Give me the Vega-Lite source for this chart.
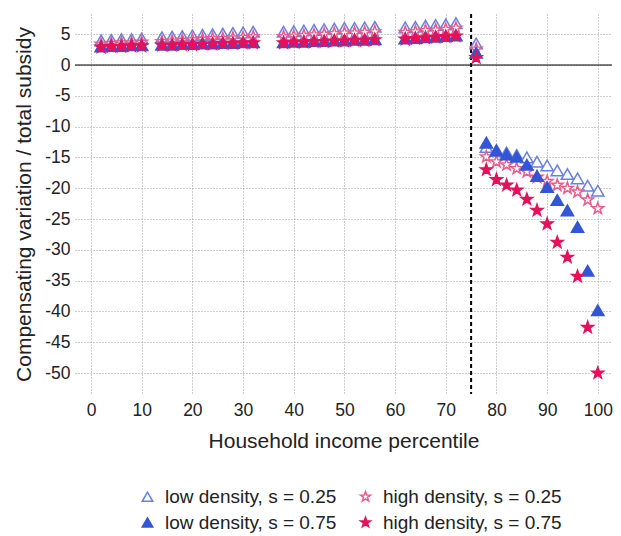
{
  "$schema": "https://vega.github.io/schema/vega-lite/v6.json",
  "width": 537,
  "height": 380,
  "padding": {"left": 75, "top": 14, "right": 9, "bottom": 142},
  "autosize": "none",
  "background": "white",
  "config": {
    "font": "Liberation Sans",
    "view": {"stroke": null},
    "axis": {"labelFont": "Liberation Sans", "titleFont": "Liberation Sans", "labelFontSize": 17.5, "titleFontSize": 21, "titleFontWeight": "normal", "labelColor": "#222", "titleColor": "#222", "domain": false, "ticks": false, "labelOverlap": false, "gridColor": "#9a9a9a", "gridDash": [1, 2], "gridWidth": 1, "labelExpr": "replace(datum.label, '\u2212', '-')"}
  },
  "datasets": {
    "pts": [
      {"x": 2, "y": 4.0, "series": "low density, s = 0.25"},
      {"x": 4, "y": 4.1, "series": "low density, s = 0.25"},
      {"x": 6, "y": 4.2, "series": "low density, s = 0.25"},
      {"x": 8, "y": 4.2, "series": "low density, s = 0.25"},
      {"x": 10, "y": 4.3, "series": "low density, s = 0.25"},
      {"x": 14, "y": 4.5, "series": "low density, s = 0.25"},
      {"x": 16, "y": 4.6, "series": "low density, s = 0.25"},
      {"x": 18, "y": 4.7, "series": "low density, s = 0.25"},
      {"x": 20, "y": 4.8, "series": "low density, s = 0.25"},
      {"x": 22, "y": 4.9, "series": "low density, s = 0.25"},
      {"x": 24, "y": 5.0, "series": "low density, s = 0.25"},
      {"x": 26, "y": 5.1, "series": "low density, s = 0.25"},
      {"x": 28, "y": 5.2, "series": "low density, s = 0.25"},
      {"x": 30, "y": 5.3, "series": "low density, s = 0.25"},
      {"x": 32, "y": 5.4, "series": "low density, s = 0.25"},
      {"x": 38, "y": 5.4, "series": "low density, s = 0.25"},
      {"x": 40, "y": 5.5, "series": "low density, s = 0.25"},
      {"x": 42, "y": 5.6, "series": "low density, s = 0.25"},
      {"x": 44, "y": 5.7, "series": "low density, s = 0.25"},
      {"x": 46, "y": 5.8, "series": "low density, s = 0.25"},
      {"x": 48, "y": 5.9, "series": "low density, s = 0.25"},
      {"x": 50, "y": 6.0, "series": "low density, s = 0.25"},
      {"x": 52, "y": 6.0, "series": "low density, s = 0.25"},
      {"x": 54, "y": 6.1, "series": "low density, s = 0.25"},
      {"x": 56, "y": 6.2, "series": "low density, s = 0.25"},
      {"x": 62, "y": 6.1, "series": "low density, s = 0.25"},
      {"x": 64, "y": 6.2, "series": "low density, s = 0.25"},
      {"x": 66, "y": 6.4, "series": "low density, s = 0.25"},
      {"x": 68, "y": 6.5, "series": "low density, s = 0.25"},
      {"x": 70, "y": 6.6, "series": "low density, s = 0.25"},
      {"x": 72, "y": 6.8, "series": "low density, s = 0.25"},
      {"x": 76, "y": 3.5, "series": "low density, s = 0.25"},
      {"x": 78, "y": -13.3, "series": "low density, s = 0.25"},
      {"x": 80, "y": -13.8, "series": "low density, s = 0.25"},
      {"x": 82, "y": -14.2, "series": "low density, s = 0.25"},
      {"x": 84, "y": -14.6, "series": "low density, s = 0.25"},
      {"x": 86, "y": -15.0, "series": "low density, s = 0.25"},
      {"x": 88, "y": -15.7, "series": "low density, s = 0.25"},
      {"x": 90, "y": -16.3, "series": "low density, s = 0.25"},
      {"x": 92, "y": -17.1, "series": "low density, s = 0.25"},
      {"x": 94, "y": -17.7, "series": "low density, s = 0.25"},
      {"x": 96, "y": -18.4, "series": "low density, s = 0.25"},
      {"x": 98, "y": -19.6, "series": "low density, s = 0.25"},
      {"x": 100, "y": -20.4, "series": "low density, s = 0.25"},

      {"x": 2, "y": 3.4, "series": "high density, s = 0.25"},
      {"x": 4, "y": 3.5, "series": "high density, s = 0.25"},
      {"x": 6, "y": 3.6, "series": "high density, s = 0.25"},
      {"x": 8, "y": 3.6, "series": "high density, s = 0.25"},
      {"x": 10, "y": 3.7, "series": "high density, s = 0.25"},
      {"x": 14, "y": 3.8, "series": "high density, s = 0.25"},
      {"x": 16, "y": 3.9, "series": "high density, s = 0.25"},
      {"x": 18, "y": 4.0, "series": "high density, s = 0.25"},
      {"x": 20, "y": 4.1, "series": "high density, s = 0.25"},
      {"x": 22, "y": 4.2, "series": "high density, s = 0.25"},
      {"x": 24, "y": 4.3, "series": "high density, s = 0.25"},
      {"x": 26, "y": 4.3, "series": "high density, s = 0.25"},
      {"x": 28, "y": 4.4, "series": "high density, s = 0.25"},
      {"x": 30, "y": 4.5, "series": "high density, s = 0.25"},
      {"x": 32, "y": 4.6, "series": "high density, s = 0.25"},
      {"x": 38, "y": 4.6, "series": "high density, s = 0.25"},
      {"x": 40, "y": 4.7, "series": "high density, s = 0.25"},
      {"x": 42, "y": 4.8, "series": "high density, s = 0.25"},
      {"x": 44, "y": 4.9, "series": "high density, s = 0.25"},
      {"x": 46, "y": 5.0, "series": "high density, s = 0.25"},
      {"x": 48, "y": 5.1, "series": "high density, s = 0.25"},
      {"x": 50, "y": 5.2, "series": "high density, s = 0.25"},
      {"x": 52, "y": 5.2, "series": "high density, s = 0.25"},
      {"x": 54, "y": 5.3, "series": "high density, s = 0.25"},
      {"x": 56, "y": 5.4, "series": "high density, s = 0.25"},
      {"x": 62, "y": 5.3, "series": "high density, s = 0.25"},
      {"x": 64, "y": 5.4, "series": "high density, s = 0.25"},
      {"x": 66, "y": 5.6, "series": "high density, s = 0.25"},
      {"x": 68, "y": 5.7, "series": "high density, s = 0.25"},
      {"x": 70, "y": 5.8, "series": "high density, s = 0.25"},
      {"x": 72, "y": 6.0, "series": "high density, s = 0.25"},
      {"x": 76, "y": 2.6, "series": "high density, s = 0.25"},
      {"x": 78, "y": -14.9, "series": "high density, s = 0.25"},
      {"x": 80, "y": -15.7, "series": "high density, s = 0.25"},
      {"x": 82, "y": -16.2, "series": "high density, s = 0.25"},
      {"x": 84, "y": -16.8, "series": "high density, s = 0.25"},
      {"x": 86, "y": -17.3, "series": "high density, s = 0.25"},
      {"x": 88, "y": -18.2, "series": "high density, s = 0.25"},
      {"x": 90, "y": -18.9, "series": "high density, s = 0.25"},
      {"x": 92, "y": -19.5, "series": "high density, s = 0.25"},
      {"x": 94, "y": -20.0, "series": "high density, s = 0.25"},
      {"x": 96, "y": -20.6, "series": "high density, s = 0.25"},
      {"x": 98, "y": -21.9, "series": "high density, s = 0.25"},
      {"x": 100, "y": -23.3, "series": "high density, s = 0.25"},

      {"x": 2, "y": 3.0, "series": "low density, s = 0.75"},
      {"x": 4, "y": 3.1, "series": "low density, s = 0.75"},
      {"x": 6, "y": 3.1, "series": "low density, s = 0.75"},
      {"x": 8, "y": 3.2, "series": "low density, s = 0.75"},
      {"x": 10, "y": 3.2, "series": "low density, s = 0.75"},
      {"x": 14, "y": 3.3, "series": "low density, s = 0.75"},
      {"x": 16, "y": 3.3, "series": "low density, s = 0.75"},
      {"x": 18, "y": 3.4, "series": "low density, s = 0.75"},
      {"x": 20, "y": 3.4, "series": "low density, s = 0.75"},
      {"x": 22, "y": 3.5, "series": "low density, s = 0.75"},
      {"x": 24, "y": 3.5, "series": "low density, s = 0.75"},
      {"x": 26, "y": 3.6, "series": "low density, s = 0.75"},
      {"x": 28, "y": 3.6, "series": "low density, s = 0.75"},
      {"x": 30, "y": 3.7, "series": "low density, s = 0.75"},
      {"x": 32, "y": 3.7, "series": "low density, s = 0.75"},
      {"x": 38, "y": 3.7, "series": "low density, s = 0.75"},
      {"x": 40, "y": 3.8, "series": "low density, s = 0.75"},
      {"x": 42, "y": 3.8, "series": "low density, s = 0.75"},
      {"x": 44, "y": 3.9, "series": "low density, s = 0.75"},
      {"x": 46, "y": 3.9, "series": "low density, s = 0.75"},
      {"x": 48, "y": 4.0, "series": "low density, s = 0.75"},
      {"x": 50, "y": 4.0, "series": "low density, s = 0.75"},
      {"x": 52, "y": 4.1, "series": "low density, s = 0.75"},
      {"x": 54, "y": 4.1, "series": "low density, s = 0.75"},
      {"x": 56, "y": 4.2, "series": "low density, s = 0.75"},
      {"x": 62, "y": 4.3, "series": "low density, s = 0.75"},
      {"x": 64, "y": 4.4, "series": "low density, s = 0.75"},
      {"x": 66, "y": 4.5, "series": "low density, s = 0.75"},
      {"x": 68, "y": 4.6, "series": "low density, s = 0.75"},
      {"x": 70, "y": 4.7, "series": "low density, s = 0.75"},
      {"x": 72, "y": 4.8, "series": "low density, s = 0.75"},
      {"x": 76, "y": 2.0, "series": "low density, s = 0.75"},
      {"x": 78, "y": -12.6, "series": "low density, s = 0.75"},
      {"x": 80, "y": -13.9, "series": "low density, s = 0.75"},
      {"x": 82, "y": -14.5, "series": "low density, s = 0.75"},
      {"x": 84, "y": -14.9, "series": "low density, s = 0.75"},
      {"x": 86, "y": -16.2, "series": "low density, s = 0.75"},
      {"x": 88, "y": -18.0, "series": "low density, s = 0.75"},
      {"x": 90, "y": -19.8, "series": "low density, s = 0.75"},
      {"x": 92, "y": -21.9, "series": "low density, s = 0.75"},
      {"x": 94, "y": -23.6, "series": "low density, s = 0.75"},
      {"x": 96, "y": -26.3, "series": "low density, s = 0.75"},
      {"x": 98, "y": -33.4, "series": "low density, s = 0.75"},
      {"x": 100, "y": -39.8, "series": "low density, s = 0.75"},

      {"x": 2, "y": 2.9, "series": "high density, s = 0.75"},
      {"x": 4, "y": 3.0, "series": "high density, s = 0.75"},
      {"x": 6, "y": 3.0, "series": "high density, s = 0.75"},
      {"x": 8, "y": 3.1, "series": "high density, s = 0.75"},
      {"x": 10, "y": 3.1, "series": "high density, s = 0.75"},
      {"x": 14, "y": 3.2, "series": "high density, s = 0.75"},
      {"x": 16, "y": 3.2, "series": "high density, s = 0.75"},
      {"x": 18, "y": 3.3, "series": "high density, s = 0.75"},
      {"x": 20, "y": 3.3, "series": "high density, s = 0.75"},
      {"x": 22, "y": 3.4, "series": "high density, s = 0.75"},
      {"x": 24, "y": 3.4, "series": "high density, s = 0.75"},
      {"x": 26, "y": 3.5, "series": "high density, s = 0.75"},
      {"x": 28, "y": 3.5, "series": "high density, s = 0.75"},
      {"x": 30, "y": 3.6, "series": "high density, s = 0.75"},
      {"x": 32, "y": 3.6, "series": "high density, s = 0.75"},
      {"x": 38, "y": 3.6, "series": "high density, s = 0.75"},
      {"x": 40, "y": 3.7, "series": "high density, s = 0.75"},
      {"x": 42, "y": 3.7, "series": "high density, s = 0.75"},
      {"x": 44, "y": 3.8, "series": "high density, s = 0.75"},
      {"x": 46, "y": 3.8, "series": "high density, s = 0.75"},
      {"x": 48, "y": 3.9, "series": "high density, s = 0.75"},
      {"x": 50, "y": 3.9, "series": "high density, s = 0.75"},
      {"x": 52, "y": 4.0, "series": "high density, s = 0.75"},
      {"x": 54, "y": 4.0, "series": "high density, s = 0.75"},
      {"x": 56, "y": 4.1, "series": "high density, s = 0.75"},
      {"x": 62, "y": 4.2, "series": "high density, s = 0.75"},
      {"x": 64, "y": 4.3, "series": "high density, s = 0.75"},
      {"x": 66, "y": 4.4, "series": "high density, s = 0.75"},
      {"x": 68, "y": 4.5, "series": "high density, s = 0.75"},
      {"x": 70, "y": 4.6, "series": "high density, s = 0.75"},
      {"x": 72, "y": 4.7, "series": "high density, s = 0.75"},
      {"x": 76, "y": 1.2, "series": "high density, s = 0.75"},
      {"x": 78, "y": -17.0, "series": "high density, s = 0.75"},
      {"x": 80, "y": -18.6, "series": "high density, s = 0.75"},
      {"x": 82, "y": -19.5, "series": "high density, s = 0.75"},
      {"x": 84, "y": -20.3, "series": "high density, s = 0.75"},
      {"x": 86, "y": -21.8, "series": "high density, s = 0.75"},
      {"x": 88, "y": -23.6, "series": "high density, s = 0.75"},
      {"x": 90, "y": -25.8, "series": "high density, s = 0.75"},
      {"x": 92, "y": -28.8, "series": "high density, s = 0.75"},
      {"x": 94, "y": -31.2, "series": "high density, s = 0.75"},
      {"x": 96, "y": -34.3, "series": "high density, s = 0.75"},
      {"x": 98, "y": -42.6, "series": "high density, s = 0.75"},
      {"x": 100, "y": -50.0, "series": "high density, s = 0.75"}
    ],
    "zero": [{"y": 0}],
    "cut": [{"x": 75}]
  },
  "layer": [
    {
      "data": {"name": "zero"},
      "mark": {"type": "rule", "color": "black", "strokeWidth": 1},
      "encoding": {"y": {"field": "y", "type": "quantitative"}}
    },
    {
      "data": {"name": "cut"},
      "mark": {"type": "rule", "color": "black", "strokeWidth": 2, "strokeDash": [4, 3]},
      "encoding": {"x": {"field": "x", "type": "quantitative"}}
    },
    {
      "data": {"name": "pts"},
      "mark": {"type": "point", "filled": false, "opacity": 1, "strokeWidth": 1.5},
      "encoding": {
        "x": {
          "field": "x", "type": "quantitative",
          "scale": {"domain": [-3.16, 102.8], "nice": false, "zero": false},
          "axis": {"values": [0, 10, 20, 30, 40, 50, 60, 70, 80, 90, 100], "tickCount": 30, "title": "Household income percentile", "labelPadding": 7, "titlePadding": 12}
        },
        "y": {
          "field": "y", "type": "quantitative",
          "scale": {"domain": [-53.4, 8.28], "nice": false, "zero": false},
          "axis": {"values": [5, 0, -5, -10, -15, -20, -25, -30, -35, -40, -45, -50], "tickCount": 30, "title": "Compensating variation / total subsidy", "labelPadding": 5, "titlePadding": 10}
        },
        "shape": {
          "field": "series", "type": "nominal",
          "scale": {
            "domain": ["low density, s = 0.25", "high density, s = 0.25", "low density, s = 0.75", "high density, s = 0.75"],
            "range": ["triangle-up", "M0,-1L0.235,-0.324L0.951,-0.309L0.38,0.124L0.588,0.809L0,0.4L-0.588,0.809L-0.38,0.124L-0.951,-0.309L-0.235,-0.324Z", "triangle-up", "M0,-1L0.235,-0.324L0.951,-0.309L0.38,0.124L0.588,0.809L0,0.4L-0.588,0.809L-0.38,0.124L-0.951,-0.309L-0.235,-0.324Z"]
          },
          "legend": {
            "title": null, "orient": "none", "legendX": 63, "legendY": 473, "direction": "horizontal", "columns": 2, "columnPadding": 19, "rowPadding": 6, "labelLimit": 400,
            "labelFontSize": 19, "labelFont": "Liberation Sans", "labelColor": "#222", "symbolSize": 110, "symbolStrokeWidth": 1.5, "labelOffset": 8
          }
        },
        "stroke": {
          "field": "series", "type": "nominal",
          "scale": {
            "domain": ["low density, s = 0.25", "high density, s = 0.25", "low density, s = 0.75", "high density, s = 0.75"],
            "range": ["#6680e6", "#ee5a88", "#3355d6", "#e5115a"]
          }
        },
        "fill": {
          "field": "series", "type": "nominal",
          "scale": {
            "domain": ["low density, s = 0.25", "high density, s = 0.25", "low density, s = 0.75", "high density, s = 0.75"],
            "range": ["white", "white", "#3355d6", "#e5115a"]
          }
        },
        "size": {"value": 150}
      }
    }
  ]
}
